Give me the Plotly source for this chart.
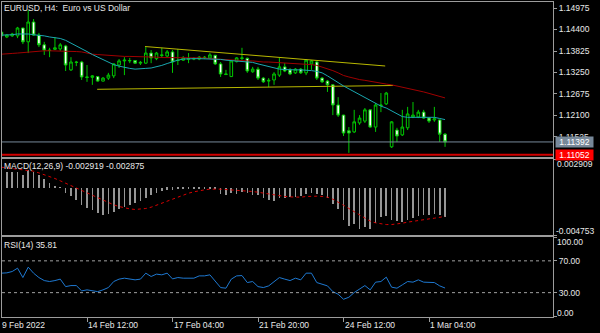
import plotly.graph_objects as go

# ---------------- data ----------------
bar_index = list(range(84))

open_ = [1.1433, 1.1420, 1.1423, 1.1423, 1.1444, 1.1407, 1.1460, 1.1425, 1.1399, 1.1385,
         1.1387, 1.1388, 1.1396, 1.1332, 1.1353, 1.1353, 1.1313, 1.1312, 1.1314, 1.1302,
         1.1310, 1.1316, 1.1345, 1.1356, 1.1356, 1.1357, 1.1350, 1.1350, 1.1377, 1.1362,
         1.1372, 1.1369, 1.1380, 1.1358, 1.1358, 1.1362, 1.1361, 1.1361, 1.1366, 1.1364,
         1.1371, 1.1348, 1.1321, 1.1314, 1.1354, 1.1364, 1.1363, 1.1327, 1.1334, 1.1310,
         1.1302, 1.1305, 1.1318, 1.1340, 1.1332, 1.1324, 1.1334, 1.1324, 1.1348, 1.1353,
         1.1310, 1.1302, 1.1292, 1.1238, 1.1211, 1.1169, 1.1166, 1.1190, 1.1195, 1.1225,
         1.1179, 1.1238, 1.1241, 1.1126, 1.1171, 1.1158, 1.1177, 1.1206, 1.1206, 1.1219,
         1.1203, 1.1198, 1.1198, 1.1160]
high = [1.1436, 1.1428, 1.1431, 1.1447, 1.1445, 1.1492, 1.1468, 1.1431, 1.1407, 1.1391,
        1.1420, 1.1404, 1.1399, 1.1366, 1.1356, 1.1356, 1.1345, 1.1318, 1.1315, 1.1313,
        1.1324, 1.1350, 1.1361, 1.1366, 1.1364, 1.1358, 1.1356, 1.1393, 1.1385, 1.1380,
        1.1391, 1.1385, 1.1385, 1.1388, 1.1369, 1.1377, 1.1366, 1.1369, 1.1369, 1.1377,
        1.1372, 1.1353, 1.1332, 1.1358, 1.1366, 1.1391, 1.1365, 1.1340, 1.1340, 1.1313,
        1.1310, 1.1326, 1.1364, 1.1350, 1.1337, 1.1337, 1.1337, 1.1361, 1.1358, 1.1356,
        1.1313, 1.1305, 1.1294, 1.1259, 1.1212, 1.1179, 1.1225, 1.1211, 1.1230, 1.1227,
        1.1243, 1.1270, 1.1273, 1.1195, 1.1177, 1.1225, 1.1233, 1.1246, 1.1225, 1.1225,
        1.1206, 1.1233, 1.1199, 1.1163]
low = [1.1420, 1.1417, 1.1420, 1.1417, 1.1401, 1.1377, 1.1423, 1.1393, 1.1372, 1.1366,
       1.1385, 1.1383, 1.1329, 1.1329, 1.1342, 1.1305, 1.1300, 1.1292, 1.1300, 1.1301,
       1.1305, 1.1310, 1.1337, 1.1318, 1.1350, 1.1348, 1.1345, 1.1348, 1.1350, 1.1358,
       1.1364, 1.1366, 1.1324, 1.1345, 1.1356, 1.1350, 1.1358, 1.1358, 1.1361, 1.1363,
       1.1345, 1.1313, 1.1318, 1.1313, 1.1352, 1.1358, 1.1324, 1.1324, 1.1305, 1.1297,
       1.1286, 1.1292, 1.1313, 1.1326, 1.1318, 1.1321, 1.1321, 1.1318, 1.1332, 1.1305,
       1.1297, 1.1273, 1.1211, 1.1206, 1.1155, 1.1110, 1.1163, 1.1185, 1.1190, 1.1177,
       1.1166, 1.1219, 1.1238, 1.1123, 1.1139, 1.1155, 1.1171, 1.1203, 1.1203, 1.1201,
       1.1190, 1.1193, 1.1139, 1.1126]
close = [1.1423, 1.1425, 1.1428, 1.1444, 1.1407, 1.1460, 1.1425, 1.1399, 1.1385, 1.1384,
         1.1391, 1.1399, 1.1345, 1.1353, 1.1352, 1.1313, 1.1312, 1.1316, 1.1302, 1.1310,
         1.1318, 1.1348, 1.1356, 1.1358, 1.1357, 1.1350, 1.1352, 1.1377, 1.1364, 1.1377,
         1.1371, 1.1380, 1.1353, 1.1357, 1.1364, 1.1361, 1.1362, 1.1366, 1.1365, 1.1372,
         1.1348, 1.1321, 1.1320, 1.1356, 1.1364, 1.1363, 1.1329, 1.1334, 1.1310, 1.1300,
         1.1304, 1.1321, 1.1340, 1.1329, 1.1321, 1.1334, 1.1324, 1.1358, 1.1356, 1.1310,
         1.1300, 1.1292, 1.1238, 1.1211, 1.1163, 1.1163, 1.1193, 1.1203, 1.1225, 1.1179,
         1.1238, 1.1237, 1.1270, 1.1193, 1.1155, 1.1179, 1.1214, 1.1211, 1.1219, 1.1203,
         1.1195, 1.1201, 1.1160, 1.11392]

ma_fast = [1.1425, 1.1425, 1.1426, 1.1428, 1.1428, 1.1428, 1.1426, 1.1425, 1.1423, 1.1420,
           1.1419, 1.1416, 1.1411, 1.1404, 1.1397, 1.1389, 1.1381, 1.1373, 1.1366, 1.1358,
           1.1352, 1.1346, 1.1342, 1.1338, 1.1336, 1.1334, 1.1334, 1.1336, 1.1337, 1.1340,
           1.1344, 1.1349, 1.1354, 1.1358, 1.1361, 1.1362, 1.1362, 1.1362, 1.1362, 1.1362,
           1.1361, 1.1360, 1.1358, 1.1357, 1.1356, 1.1356, 1.1354, 1.1352, 1.1348, 1.1344,
           1.1340, 1.1337, 1.1334, 1.1333, 1.1332, 1.1332, 1.1332, 1.1332, 1.1330, 1.1328,
           1.1324, 1.1316, 1.1308, 1.1298, 1.1289, 1.1281, 1.1273, 1.1265, 1.1258, 1.1250,
           1.1242, 1.1235, 1.1230, 1.1222, 1.1214, 1.1207, 1.1205, 1.1205, 1.1206, 1.1206,
           1.1206, 1.1205, 1.1202, 1.1199]
ma_slow = [1.1374, 1.1376, 1.1376, 1.1377, 1.1378, 1.1380, 1.1381, 1.1383, 1.1383, 1.1383,
           1.1383, 1.1383, 1.1383, 1.1383, 1.1381, 1.1380, 1.1377, 1.1374, 1.1373, 1.1372,
           1.1370, 1.1369, 1.1369, 1.1368, 1.1368, 1.1368, 1.1366, 1.1366, 1.1366, 1.1366,
           1.1365, 1.1365, 1.1365, 1.1365, 1.1365, 1.1365, 1.1365, 1.1365, 1.1364, 1.1362,
           1.1361, 1.1361, 1.1360, 1.1358, 1.1358, 1.1357, 1.1356, 1.1356, 1.1354, 1.1353,
           1.1353, 1.1352, 1.1352, 1.1350, 1.1350, 1.1349, 1.1349, 1.1348, 1.1346, 1.1344,
           1.1340, 1.1336, 1.1330, 1.1324, 1.1317, 1.1313, 1.1309, 1.1306, 1.1304, 1.1301,
           1.1300, 1.1297, 1.1294, 1.1292, 1.1289, 1.1286, 1.1284, 1.1281, 1.1277, 1.1273,
           1.1269, 1.1265, 1.1261, 1.1257]

macd_main = [0.00161, 0.00161, 0.00161, 0.00161, 0.00134, 0.00185, 0.00161, 0.00128, 0.00094, 0.00050,
             0.00017, 0.00003, -0.00050, -0.00084, -0.00118, -0.00168, -0.00202, -0.00228, -0.00252, -0.00269,
             -0.00262, -0.00242, -0.00218, -0.00195, -0.00168, -0.00151, -0.00128, -0.00101, -0.00074, -0.00050,
             -0.00034, -0.00020, -0.00017, -0.00013, -0.00013, -0.00013, -0.00013, -0.00013, -0.00010, -0.00013,
             -0.00013, -0.00060, -0.00074, -0.00050, -0.00060, -0.00040, -0.00050, -0.00074, -0.00067, -0.00101,
             -0.00118, -0.00128, -0.00101, -0.00101, -0.00094, -0.00094, -0.00084, -0.00060, -0.00050, -0.00060,
             -0.00074, -0.00101, -0.00161, -0.00218, -0.00319, -0.00386, -0.00363, -0.00410, -0.00396, -0.00410,
             -0.00353, -0.00296, -0.00286, -0.00319, -0.00336, -0.00343, -0.00319, -0.00302, -0.00286, -0.00276,
             -0.00269, -0.00262, -0.00269, -0.002919]
macd_signal = [0.00208, 0.00202, 0.00195, 0.00188, 0.00181, 0.00175, 0.00168, 0.00151, 0.00134, 0.00114,
               0.00094, 0.00071, 0.00047, 0.00024, 0.00000, -0.00024, -0.00050, -0.00074, -0.00101, -0.00128,
               -0.00151, -0.00171, -0.00188, -0.00202, -0.00212, -0.00218, -0.00215, -0.00208, -0.00195, -0.00175,
               -0.00155, -0.00134, -0.00111, -0.00091, -0.00071, -0.00054, -0.00040, -0.00027, -0.00020, -0.00013,
               -0.00010, -0.00013, -0.00017, -0.00020, -0.00024, -0.00027, -0.00030, -0.00037, -0.00044, -0.00054,
               -0.00064, -0.00074, -0.00081, -0.00087, -0.00091, -0.00094, -0.00094, -0.00087, -0.00084, -0.00084,
               -0.00087, -0.00094, -0.00114, -0.00141, -0.00175, -0.00208, -0.00242, -0.00276, -0.00309, -0.00336,
               -0.00353, -0.00363, -0.00370, -0.00370, -0.00366, -0.00356, -0.00346, -0.00336, -0.00326, -0.00319,
               -0.00313, -0.00306, -0.00299, -0.002875]

rsi = [54.5, 54.9, 56.6, 60.8, 49.0, 62.1, 54.5, 49.0, 45.2, 44.0,
       45.2, 47.0, 37.6, 38.9, 38.9, 32.2, 33.5, 32.6, 31.3, 33.5,
       36.4, 44.0, 47.0, 48.2, 47.3, 46.1, 47.0, 54.5, 50.3, 53.3,
       52.4, 54.5, 47.3, 49.0, 48.2, 48.2, 48.2, 51.1, 51.1, 52.4,
       44.0, 36.4, 35.6, 47.0, 51.1, 51.5, 42.7, 44.0, 37.6, 36.4,
       38.5, 44.0, 49.0, 47.0, 45.2, 48.2, 46.1, 54.5, 54.5, 42.7,
       41.0, 38.5, 31.3, 28.0, 21.7, 24.2, 30.1, 34.3, 38.9, 33.5,
       43.2, 44.0, 49.5, 36.9, 35.6, 39.8, 44.0, 43.2, 46.1, 43.2,
       43.2, 42.7, 38.5, 35.81]

trend_upper_x = [26.85, 71.8]
trend_upper_y = [1.13945, 1.13424]
trend_lower_x = [17.9, 73.3]
trend_lower_y = [1.12800, 1.12902]

price_ticks = [1.14975, 1.14400, 1.13825, 1.13250, 1.12675, 1.12100, 1.11525]
time_tick_index = [0, 16, 32, 48, 64, 80]
time_tick_labels = ["9 Feb 2022", "14 Feb 12:00", "17 Feb 04:00", "21 Feb 20:00", "24 Feb 12:00", "1 Mar 04:00"]
bid_price = 1.11392
red_level = 1.11052
macd_max, macd_min = 0.002909, -0.004753
rsi_levels = [70, 30]

# ---------------- style ----------------
W, H = 600, 333
FONT = "Liberation Sans, Arial, sans-serif"
FS = 8.5
TXT = "#e8e8e8"
FRAME = "#9c9c9c"
GREEN = "#00c800"

def py(p):  # pixel from top -> paper fraction
    return (H - p) / H

x_dom = [2 / W, 553 / W]
main_dom = [py(157), py(2)]
macd_dom = [py(235), py(159)]
rsi_dom = [py(316.5), py(237)]
x_range = [0.094, 103.2]

fig = go.Figure()

fig.add_trace(go.Candlestick(
    x=bar_index, open=open_, high=high, low=low, close=close,
    increasing=dict(line=dict(color=GREEN, width=1), fillcolor="black"),
    decreasing=dict(line=dict(color=GREEN, width=1), fillcolor="white"),
    whiskerwidth=0, xaxis="x", yaxis="y", hoverinfo="skip"))

fig.add_trace(go.Scatter(x=trend_upper_x, y=trend_upper_y, mode="lines",
                         line=dict(color="#b8b800", width=1), xaxis="x", yaxis="y"))
fig.add_trace(go.Scatter(x=trend_lower_x, y=trend_lower_y, mode="lines",
                         line=dict(color="#b8b800", width=1), xaxis="x", yaxis="y"))
fig.add_trace(go.Scatter(x=bar_index, y=ma_slow, mode="lines",
                         line=dict(color="#a00000", width=1), xaxis="x", yaxis="y"))
fig.add_trace(go.Scatter(x=bar_index, y=ma_fast, mode="lines",
                         line=dict(color="#1aa8b0", width=1), xaxis="x", yaxis="y"))

fig.add_trace(go.Bar(x=bar_index, y=macd_main, width=0.12,
                     marker=dict(color="#969696", line=dict(width=0)),
                     xaxis="x2", yaxis="y2"))
fig.add_trace(go.Scatter(x=bar_index, y=macd_signal, mode="lines",
                         line=dict(color="#d80000", width=1, dash="dot"), xaxis="x2", yaxis="y2"))

fig.add_trace(go.Scatter(x=bar_index, y=rsi, mode="lines",
                         line=dict(color="#1e78d0", width=1), xaxis="x3", yaxis="y3"))

shapes = [
    dict(type="line", xref="x domain", yref="y", x0=0, x1=1, y0=bid_price, y1=bid_price,
         line=dict(color="#778899", width=1)),
    dict(type="line", xref="x domain", yref="y", x0=0, x1=1, y0=red_level, y1=red_level,
         line=dict(color="#d00000", width=2)),
]
for lv in rsi_levels:
    shapes.append(dict(type="line", xref="x3 domain", yref="y3", x0=0, x1=1, y0=lv, y1=lv,
                       line=dict(color="#a0a0a0", width=1, dash="dot")))

ann = []
def label(text, x, y, xref="paper", yref="paper", xanchor="left", yanchor="middle", **kw):
    ann.append(dict(text=text, x=x, y=y, xref=xref, yref=yref, xanchor=xanchor, yanchor=yanchor,
                    showarrow=False, font=dict(family=FONT, size=FS, color=kw.pop("color", TXT)),
                    borderpad=0, **kw))

label("EURUSD, H4:\u00a0\u00a0Euro vs US Dollar", 3 / W, py(8))
label("MACD(12,26,9) -0.002919 -0.002875", 3 / W, py(166))
label("RSI(14) 35.81", 3 / W, py(245))
label(f"{macd_max:.6f}", 556 / W, py(164))
label(f"{macd_min:.6f}", 555 / W, py(231))
label("100.00", 556 / W, py(242))
label("0.00", 556 / W, py(312.5))
label(f"{bid_price:.5f}", 555 / W, bid_price, yref="y", bgcolor="#778899", width=37, height=10,
      color="white")
label(f"{red_level:.5f}", 555 / W, red_level, yref="y", bgcolor="#ff0000", width=37, height=10,
      color="white")
# first time label sits at the left frame edge, the others at their tick marks
label(time_tick_labels[0], 1 / W, py(325))
for idx, txt in zip(time_tick_index[1:], time_tick_labels[1:]):
    label(txt, idx, py(325), xref="x3")

axis_common = dict(showgrid=False, zeroline=False, showline=True, mirror=True, linecolor=FRAME,
                   linewidth=1, automargin=False)
tickfont = dict(family=FONT, size=FS, color=TXT)

fig.update_layout(
    width=W, height=H, margin=dict(l=0, r=0, t=0, b=0),
    paper_bgcolor="black", plot_bgcolor="black", showlegend=False, hovermode=False,
    bargap=0,
    xaxis=dict(domain=x_dom, range=x_range, anchor="y", showticklabels=False, ticks="",
               rangeslider=dict(visible=False), **axis_common),
    xaxis2=dict(domain=x_dom, range=x_range, anchor="y2", matches="x", showticklabels=False, ticks="",
                **axis_common),
    xaxis3=dict(domain=x_dom, range=x_range, anchor="y3", matches="x", showticklabels=False,
                tickvals=time_tick_index[1:], ticks="outside", ticklen=4, tickcolor=FRAME, **axis_common),
    yaxis=dict(domain=main_dom, range=[1.10989, 1.15136], anchor="x", side="right",
               tickvals=price_ticks, ticktext=[f"{v:.5f}" for v in price_ticks],
               ticks="outside", ticklen=3, tickcolor=FRAME, tickfont=tickfont, **axis_common),
    yaxis2=dict(domain=macd_dom, range=[macd_min, macd_max], anchor="x2", side="right",
                tickvals=[macd_max, macd_min], ticktext=["", ""],
                ticks="outside", ticklen=3, tickcolor=FRAME, tickfont=tickfont, **axis_common),
    yaxis3=dict(domain=rsi_dom, range=[0, 100], anchor="x3", side="right",
                tickvals=[100, 70, 30, 0], ticktext=["", "70.00", "30.00", ""],
                ticks="outside", ticklen=3, tickcolor=FRAME, tickfont=tickfont, **axis_common),
    shapes=shapes, annotations=ann,
)

fig.write_html("out.html")
